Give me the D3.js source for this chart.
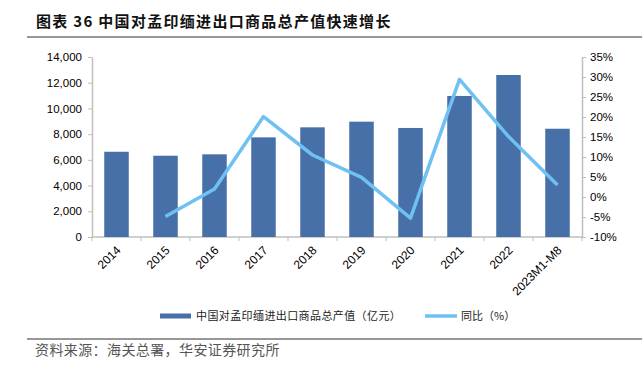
<!DOCTYPE html>
<html>
<head>
<meta charset="utf-8">
<script src="https://cdn.jsdelivr.net/npm/d3@7"></script>
<style>
  body { margin: 0; background: #fff; }
  svg { font-family: "Liberation Sans", Arial, sans-serif; }
</style>
</head>
<body>
<svg id="chart" width="642" height="372"></svg>
<script>
// data
const categories = ["2014", "2015", "2016", "2017", "2018", "2019", "2020", "2021", "2022", "2023M1-M8"];
const totalValue = [6630, 6320, 6430, 7750, 8530, 8970, 8480, 10970, 12600, 8420];
const yoyPct = [null, -4.9, 2.0, 20.1, 10.5, 4.9, -5.3, 29.4, 15.1, 3.0];
const leftTicks = [0, 2000, 4000, 6000, 8000, 10000, 12000, 14000];
const rightTicks = [-10, -5, 0, 5, 10, 15, 20, 25, 30, 35];

const svg = d3.select("#chart");
const cjk = "'Noto Sans CJK SC', sans-serif";
const margin = { top: 57, right: 60, bottom: 135, left: 92 };
const W = 642, H = 372;

// Title
svg.append("text")
    .attr("x", 36).attr("y", 27)
    .attr("font-family", cjk)
    .attr("font-size", "15px")
    .attr("font-weight", "bold")
    .attr("letter-spacing", "1.3px")
    .attr("fill", "#111")
    .text("图表 36 中国对孟印缅进出口商品总产值快速增长");
svg.append("line")
    .attr("x1", 27).attr("x2", W).attr("y1", 37).attr("y2", 37)
    .attr("stroke", "#333").attr("stroke-width", 1.2);

const x = d3.scaleBand()
    .domain(categories)
    .range([margin.left, W - margin.right])
    .paddingInner(0.5).paddingOuter(0.25);

const y = d3.scaleLinear().domain([0, 14000]).range([H - margin.bottom, margin.top]);
const y2 = d3.scaleLinear().domain([-10, 35]).range([H - margin.bottom, margin.top]);

const axisColor = "#bfbfbf";

// Left axis
const gl = svg.append("g")
    .attr("transform", `translate(${margin.left},0)`)
    .call(d3.axisLeft(y).tickValues(leftTicks).tickFormat(d3.format(",")).tickSize(4).tickSizeOuter(0).tickPadding(6));

// Right axis
const gr = svg.append("g")
    .attr("transform", `translate(${W - margin.right},0)`)
    .call(d3.axisRight(y2).tickValues(rightTicks).tickFormat(d => d + "%").tickSize(4).tickSizeOuter(0).tickPadding(4));

// X axis with ticks at band edges
const gx = svg.append("g")
    .attr("transform", `translate(0,${H - margin.bottom})`);
gx.append("line")
    .attr("x1", margin.left).attr("x2", W - margin.right)
    .attr("stroke", axisColor).attr("stroke-width", 1.5);
const edges = d3.range(categories.length + 1).map(i => margin.left + i * (W - margin.left - margin.right) / categories.length);
gx.selectAll("line.tk").data(edges).enter().append("line")
    .attr("class", "tk")
    .attr("x1", d => d).attr("x2", d => d)
    .attr("y1", 0).attr("y2", 4)
    .attr("stroke", axisColor);
gx.selectAll("text").data(categories).enter().append("text")
    .attr("transform", d => `translate(${x(d) + x.bandwidth() / 2 - 1},8) rotate(-45)`)
    .attr("text-anchor", "end")
    .attr("dy", "0.7em")
    .attr("font-size", "12px")
    .attr("fill", "#000")
    .text(d => d);

[gl, gr].forEach(g => {
    g.selectAll(".domain").attr("stroke", axisColor).attr("stroke-width", 1.5);
    g.selectAll(".tick line").attr("stroke", axisColor);
    g.selectAll(".tick text").attr("font-size", "11.5px").attr("fill", "#000");
});

// Bars
svg.selectAll("rect.bar")
    .data(categories.map((c, i) => ({ c, v: totalValue[i] })))
    .enter().append("rect")
    .attr("class", "bar")
    .attr("x", d => x(d.c))
    .attr("y", d => y(d.v))
    .attr("width", x.bandwidth())
    .attr("height", d => y(0) - y(d.v))
    .attr("fill", "#4670A7");

// Line
const lineData = categories.map((c, i) => ({ c, v: yoyPct[i] })).filter(d => d.v !== null);
svg.append("path")
    .datum(lineData)
    .attr("fill", "none")
    .attr("stroke", "#6EC1F2")
    .attr("stroke-width", 3.5)
    .attr("stroke-linejoin", "round")
    .attr("d", d3.line().x(d => x(d.c) + x.bandwidth() / 2).y(d => y2(d.v)));

// Legend
const lg = svg.append("g").attr("transform", "translate(0,316)");
lg.append("rect").attr("x", 160).attr("y", -2.5).attr("width", 31).attr("height", 5).attr("fill", "#4670A7");
lg.append("text").attr("x", 196).attr("y", 0).attr("dy", "0.35em")
    .attr("font-family", cjk).attr("font-size", "11px").attr("letter-spacing", "0.4px").attr("fill", "#222")
    .text("中国对孟印缅进出口商品总产值（亿元）");
lg.append("line").attr("x1", 425).attr("x2", 457).attr("y1", 0).attr("y2", 0)
    .attr("stroke", "#6EC1F2").attr("stroke-width", 3.5);
lg.append("text").attr("x", 461).attr("y", 0).attr("dy", "0.35em")
    .attr("font-family", cjk).attr("font-size", "11px").attr("fill", "#222")
    .text("同比（%）");

// Source
svg.append("line")
    .attr("x1", 27).attr("x2", W).attr("y1", 339).attr("y2", 339)
    .attr("stroke", "#333").attr("stroke-width", 1.2);
svg.append("text")
    .attr("x", 35).attr("y", 355)
    .attr("font-family", cjk).attr("font-size", "14px").attr("letter-spacing", "0.4px").attr("fill", "#555")
    .text("资料来源：海关总署，华安证券研究所");
</script>
</body>
</html>
